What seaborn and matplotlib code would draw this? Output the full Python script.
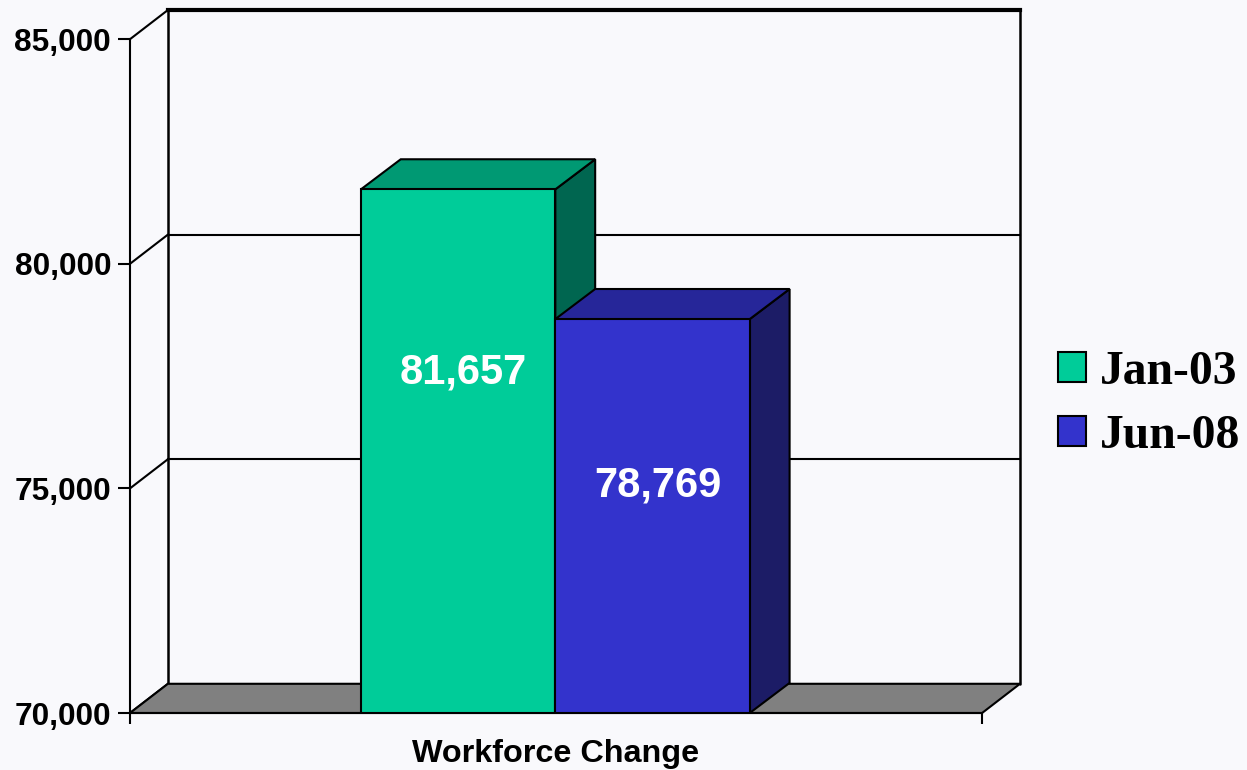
import pandas as pd
import matplotlib
matplotlib.use("Agg")
import matplotlib.pyplot as plt
from matplotlib.patches import Polygon, Patch
import seaborn as sns

# data
category = ["Workforce Change"]
periods = ["Jan-03", "Jun-08"]
values = [81657, 78769]
front_colors = ["#00CC99", "#3333CC"]
top_colors = ["#009973", "#262699"]
side_colors = ["#006650", "#1C1C66"]
label_frac = [0.656, 0.585]
yticks = [70000, 75000, 80000, 85000]

df = pd.DataFrame({"cat": category * 2, "period": periods, "value": values})

bg = "#F9F9FC"
sns.set_style("white")
plt.rcParams["font.family"] = ["Liberation Sans", "DejaVu Sans"]
plt.rcParams["text.color"] = "black"
plt.rcParams["xtick.color"] = "black"
plt.rcParams["ytick.color"] = "black"
plt.rcParams["xtick.labelcolor"] = "black"
plt.rcParams["ytick.labelcolor"] = "black"

fig = plt.figure(figsize=(12.47, 7.70), dpi=100, facecolor=bg)
ax = fig.add_axes([130 / 1247, 57 / 770, 890 / 1247, 703 / 770])
ax.set_facecolor(bg)

# 3d geometry (data units)
FL, FR = -0.875, 0.878      # front plane left / right
DX, DY = 0.078, 650         # wall depth
BDX, BDY = 0.082, 670       # bar depth
YMIN, YMAX = 70000, 85000

sns.barplot(data=df, x="cat", y="value", hue="period", palette=front_colors,
            saturation=1, edgecolor="black", linewidth=1.5, width=0.8,
            legend=False, ax=ax, zorder=3)
bars = list(ax.patches)

ax.set_xlim(FL, FR + DX)
ax.set_ylim(YMIN, YMAX + DY)

# back wall and left wall lines
for t in yticks:
    lw = 3 if t == YMAX else 1.5
    ax.plot([FL + DX, FR + DX], [t + DY, t + DY], color="black", lw=lw,
            zorder=0.5, clip_on=False, solid_capstyle="projecting")
    ax.plot([FL, FL + DX], [t, t + DY], color="black", lw=1.5, zorder=0.5,
            clip_on=False)
for xb in [FL + DX, FR + DX]:
    ax.plot([xb, xb], [YMIN + DY, YMAX + DY], color="black", lw=1.8,
            zorder=0.5, clip_on=False)

# floor
ax.add_patch(Polygon([(FL, YMIN), (FR, YMIN), (FR + DX, YMIN + DY),
                      (FL + DX, YMIN + DY)], closed=True, facecolor="#808080",
                     edgecolor="black", lw=1.5, zorder=1, clip_on=False))

# bar tops and sides
for i, p in enumerate(bars):
    x0, w, h = p.get_x(), p.get_width(), p.get_height()
    side = Polygon([(x0 + w, YMIN), (x0 + w, h), (x0 + w + BDX, h + BDY),
                    (x0 + w + BDX, YMIN + BDY)], closed=True,
                   facecolor=side_colors[i], edgecolor="black", lw=1.5, zorder=2)
    top = Polygon([(x0, h), (x0 + w, h), (x0 + w + BDX, h + BDY),
                   (x0 + BDX, h + BDY)], closed=True,
                  facecolor=top_colors[i], edgecolor="black", lw=1.5, zorder=2)
    ax.add_patch(side)
    ax.add_patch(top)
    ax.text(x0 + w / 2 + 0.01, YMIN + label_frac[i] * (values[i] - YMIN) - 60,
            f"{values[i]:,}", color="white", fontsize=30, fontweight="bold",
            ha="center", va="center", zorder=5)

# axes / spines
for s in ["top", "right"]:
    ax.spines[s].set_visible(False)
ax.spines["left"].set_position(("data", FL))
ax.spines["left"].set_bounds(YMIN, YMAX)
ax.spines["bottom"].set_bounds(FL, FR)
for s in ["left", "bottom"]:
    ax.spines[s].set_linewidth(1.5)
    ax.spines[s].set_color("black")
    ax.spines[s].set_zorder(4)

ax.set_yticks(yticks)
ax.set_yticklabels([f"{t:,}" for t in yticks])
ax.tick_params(axis="y", direction="out", length=8.6, width=1.5, pad=5,
               labelsize=22.8, left=True)
for lab in ax.get_yticklabels():
    lab.set_fontweight("bold")

ax.set_xticks([0])
ax.set_xticklabels(category)
ax.set_xticks([FL, FR], minor=True)
ax.tick_params(axis="x", which="major", length=0, pad=19, labelsize=23.3)
ax.tick_params(axis="x", which="minor", direction="out", length=8, width=1.5,
               bottom=True)
for lab in ax.get_xticklabels():
    lab.set_fontweight("bold")
ax.set_xlabel("")
ax.set_ylabel("")
ax.grid(False)

# legend
handles = [Patch(facecolor=c, edgecolor="black", lw=1.5) for c in front_colors]
fig.legend(handles, periods, loc="center left", bbox_to_anchor=(1058 / 1247, 1 - 404 / 770),
           frameon=False, handlelength=0.58, handleheight=0.58, handletextpad=0.3,
           labelspacing=0.42, borderpad=0, borderaxespad=0,
           prop={"family": "Liberation Serif", "weight": "bold", "size": 34.3})

fig.savefig("out.png", dpi=100, facecolor=bg)
